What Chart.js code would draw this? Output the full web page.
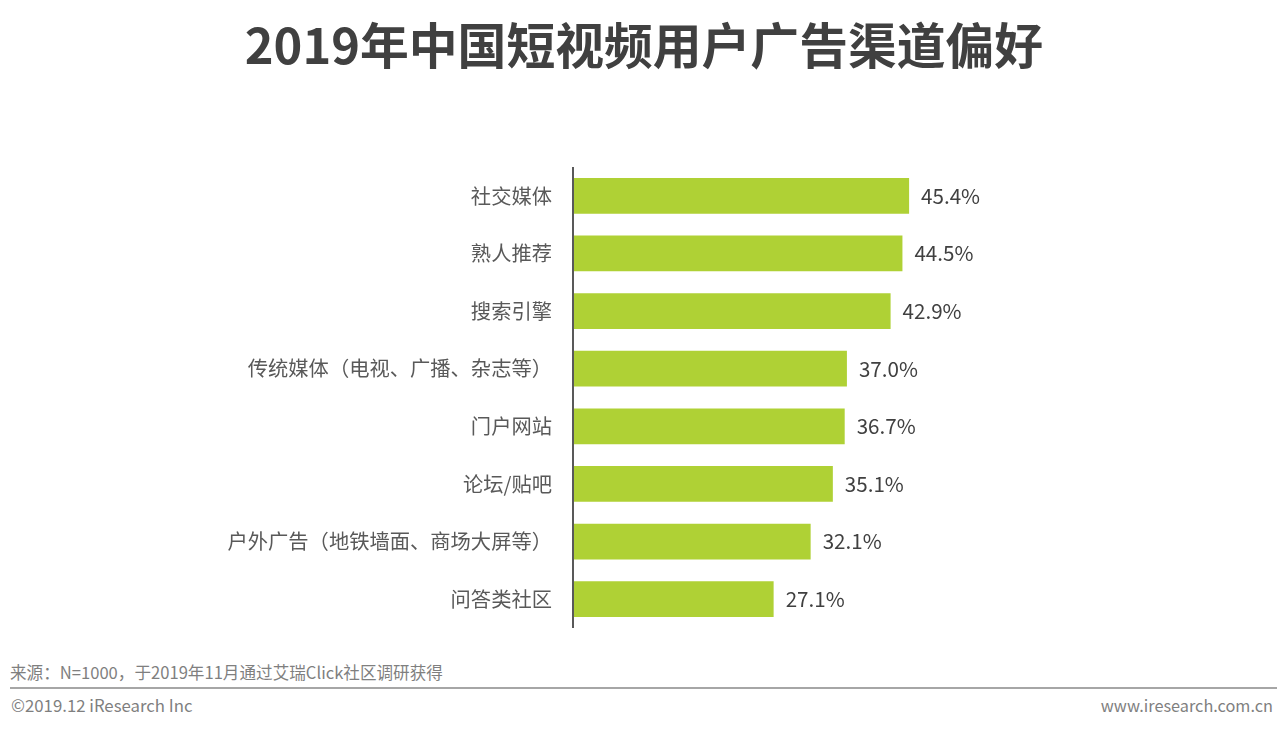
<!DOCTYPE html>
<html>
<head>
<meta charset="utf-8">
<script src="https://cdn.jsdelivr.net/npm/chart.js@4"></script>
<style>
  html, body { margin: 0; padding: 0; background: #fff; }
  body { width: 1280px; height: 731px; position: relative; overflow: hidden; font-family: "Noto Sans CJK SC", sans-serif; color: #595959; }
  #title { position: absolute; left: 0; width: 1288px; top: 8px; text-align: center; font-size: 48.8px; font-weight: 700; color: #404040; line-height: 70px; white-space: nowrap; }
  #wrap { position: absolute; left: 0; top: 167px; width: 1280px; height: 461px; }
  #source { position: absolute; left: 10px; top: 661px; font-size: 16.6px; line-height: 22px; color: #7f7f7f; white-space: nowrap; }
  #rule { position: absolute; left: 10px; width: 1267px; top: 687px; height: 2px; background: #a6a6a6; }
  #copy { position: absolute; left: 11px; top: 694px; font-size: 16.8px; line-height: 22px; color: #7f7f7f; }
  #site { position: absolute; right: 7px; top: 694px; font-size: 16.3px; line-height: 22px; color: #7f7f7f; }
</style>
</head>
<body>
<div id="title">2019年中国短视频用户广告渠道偏好</div>
<div id="wrap"><canvas id="chart"></canvas></div>
<div id="source">来源：N=1000，于2019年11月通过艾瑞Click社区调研获得</div>
<div id="rule"></div>
<div id="copy">©2019.12 iResearch Inc</div>
<div id="site">www.iresearch.com.cn</div>
<script>
const categories = ["社交媒体", "熟人推荐", "搜索引擎", "传统媒体（电视、广播、杂志等）", "门户网站", "论坛/贴吧", "户外广告（地铁墙面、商场大屏等）", "问答类社区"];
const shares = [45.4, 44.5, 42.9, 37.0, 36.7, 35.1, 32.1, 27.1];

// value labels at the end of each bar
const barLabels = {
  id: "barLabels",
  afterDatasetsDraw(chart) {
    const ctx = chart.ctx;
    ctx.save();
    ctx.font = '20.6px "Noto Sans CJK SC"';
    ctx.fillStyle = "#404040";
    ctx.textBaseline = "middle";
    chart.getDatasetMeta(0).data.forEach((bar, i) => {
      ctx.fillText(shares[i].toFixed(1) + "%", bar.x + 12, bar.y);
    });
    ctx.restore();
  }
};

new Chart(document.getElementById("chart"), {
  type: "bar",
  data: {
    labels: categories,
    datasets: [{ data: shares, backgroundColor: "#afd135", categoryPercentage: 0.62, barPercentage: 1 }]
  },
  options: {
    indexAxis: "y",
    responsive: true,
    maintainAspectRatio: false,
    animation: false,
    plugins: { legend: { display: false }, tooltip: { enabled: false } },
    scales: {
      x: { display: false, min: 0, max: 95.5 },
      y: {
        afterFit(axis) {
          axis.width = 573;
          axis.paddingTop = 0;
          axis.paddingBottom = 0;
        },
        border: { color: "#595959", width: 2, z: 1 },
        grid: { display: false },
        ticks: { color: "#595959", font: { family: "Noto Sans CJK SC", size: 20.3 }, padding: 13 }
      }
    }
  },
  plugins: [barLabels]
});
</script>
</body>
</html>
